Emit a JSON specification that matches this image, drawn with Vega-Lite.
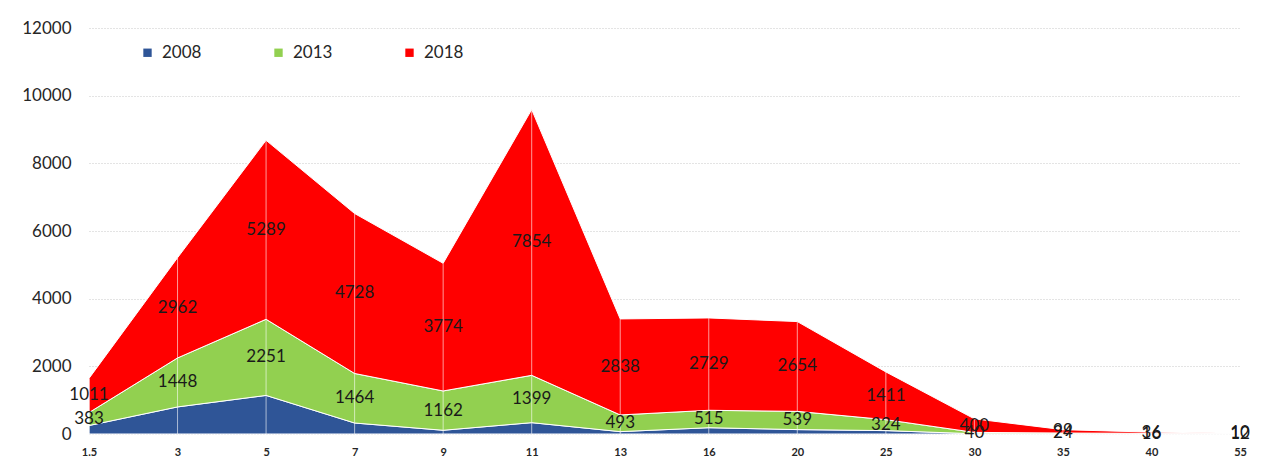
{
  "$schema": "https://vega.github.io/schema/vega-lite/v6.json",
  "width": 1151,
  "height": 406,
  "autosize": {"type": "none"},
  "padding": {"left": 89, "top": 28, "right": 26, "bottom": 30},
  "background": "white",
  "config": {"view": {"stroke": null}, "font": "Lato"},
  "data": {"values": [
    {"size": "1.5", "year": "2008", "value": 250},
    {"size": "3", "year": "2008", "value": 800},
    {"size": "5", "year": "2008", "value": 1140},
    {"size": "7", "year": "2008", "value": 325},
    {"size": "9", "year": "2008", "value": 110},
    {"size": "11", "year": "2008", "value": 335},
    {"size": "13", "year": "2008", "value": 70},
    {"size": "16", "year": "2008", "value": 186},
    {"size": "20", "year": "2008", "value": 130},
    {"size": "25", "year": "2008", "value": 100},
    {"size": "30", "year": "2008", "value": 8},
    {"size": "35", "year": "2008", "value": 5},
    {"size": "40", "year": "2008", "value": 3},
    {"size": "55", "year": "2008", "value": 2},
    {"size": "1.5", "year": "2013", "value": 383},
    {"size": "3", "year": "2013", "value": 1448},
    {"size": "5", "year": "2013", "value": 2251},
    {"size": "7", "year": "2013", "value": 1464},
    {"size": "9", "year": "2013", "value": 1162},
    {"size": "11", "year": "2013", "value": 1399},
    {"size": "13", "year": "2013", "value": 493},
    {"size": "16", "year": "2013", "value": 515},
    {"size": "20", "year": "2013", "value": 539},
    {"size": "25", "year": "2013", "value": 324},
    {"size": "30", "year": "2013", "value": 40},
    {"size": "35", "year": "2013", "value": 24},
    {"size": "40", "year": "2013", "value": 16},
    {"size": "55", "year": "2013", "value": 12},
    {"size": "1.5", "year": "2018", "value": 1011},
    {"size": "3", "year": "2018", "value": 2962},
    {"size": "5", "year": "2018", "value": 5289},
    {"size": "7", "year": "2018", "value": 4728},
    {"size": "9", "year": "2018", "value": 3774},
    {"size": "11", "year": "2018", "value": 7854},
    {"size": "13", "year": "2018", "value": 2838},
    {"size": "16", "year": "2018", "value": 2729},
    {"size": "20", "year": "2018", "value": 2654},
    {"size": "25", "year": "2018", "value": 1411},
    {"size": "30", "year": "2018", "value": 400},
    {"size": "35", "year": "2018", "value": 99},
    {"size": "40", "year": "2018", "value": 36},
    {"size": "55", "year": "2018", "value": 10}
  ]},
  "layer": [
    {
      "mark": {"type": "area", "stroke": "white", "strokeWidth": 1, "opacity": 1},
      "encoding": {
        "x": {"field": "size", "type": "ordinal",
              "sort": ["1.5","3","5","7","9","11","13","16","20","25","30","35","40","55"],
              "scale": {"type": "point", "padding": 0},
              "axis": {"title": null, "domain": false, "ticks": false, "labelFontSize": 11, "labelFontWeight": "bold", "labelPadding": 12, "labelColor": "#262626", "labelAngle": 0}},
        "y": {"field": "value", "type": "quantitative", "stack": "zero",
              "scale": {"domain": [0, 12000], "nice": false},
              "axis": {"title": null, "values": [0,2000,4000,6000,8000,10000,12000], "format": "d", "grid": true, "gridDash": [1, 2], "gridColor": "#c8c8c8", "domain": false, "ticks": false, "labelFontSize": 17, "labelColor": "#262626", "labelPadding": 18}},
        "color": {"field": "year", "type": "nominal",
                  "scale": {"domain": ["2008","2013","2018"], "range": ["#2F5597","#92D050","#FF0000"]},
                  "legend": {"title": null, "orient": "none", "direction": "horizontal", "legendX": 50, "legendY": 16, "symbolType": "square", "symbolSize": 70, "symbolStrokeWidth": 0, "labelFontSize": 17, "labelColor": "#262626", "columnPadding": 68, "labelOffset": 6}},
        "order": {"field": "year", "type": "ordinal", "sort": "ascending"}
      }
    },
    {
      "transform": [{"aggregate": [{"op": "sum", "field": "value", "as": "total"}], "groupby": ["size"]}],
      "mark": {"type": "rule", "color": "white", "strokeWidth": 1, "opacity": 0.6},
      "encoding": {
        "x": {"field": "size", "type": "ordinal", "sort": ["1.5","3","5","7","9","11","13","16","20","25","30","35","40","55"]},
        "y": {"field": "total", "type": "quantitative"},
        "y2": {"datum": 0}
      }
    },
    {
      "transform": [
        {"stack": "value", "groupby": ["size"], "sort": [{"field": "year", "order": "ascending"}], "as": ["v0", "v1"]},
        {"calculate": "(datum.v0 + datum.v1) / 2", "as": "mid"},
        {"filter": "datum.year != '2008'"}
      ],
      "mark": {"type": "text", "fontSize": 17, "color": "#1a1a1a"},
      "encoding": {
        "x": {"field": "size", "type": "ordinal", "sort": ["1.5","3","5","7","9","11","13","16","20","25","30","35","40","55"]},
        "y": {"field": "mid", "type": "quantitative"},
        "text": {"field": "value", "type": "quantitative", "format": "d"}
      }
    }
  ]
}
